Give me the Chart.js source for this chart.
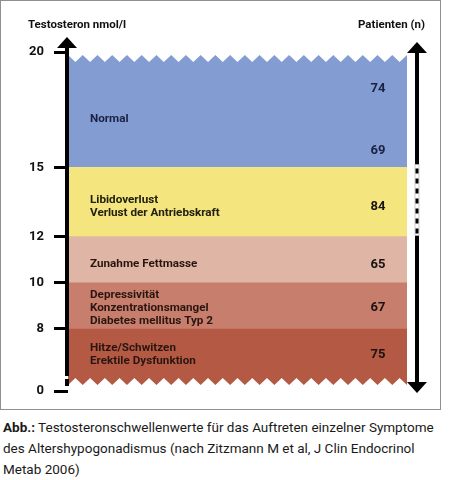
<!DOCTYPE html>
<html lang="de">
<head>
  <meta charset="UTF-8">
  <title>Testosteronschwellenwerte</title>
  <style>
    body {
      margin: 0;
      background: #fff;
      font-family: Roboto, sans-serif;
    }
    .chart-box {
      position: relative;
      width: 442px;
      height: 411px;
    }
    .chart-box canvas {
      position: absolute;
      left: 0;
      top: 0;
    }
    /* grauer Rahmen um die Grafik */
    .chart-box .frame {
      position: absolute;
      left: 0;
      top: 0;
      width: 439px;
      height: 408px;
      border: 1.5px solid #8f8f8f;
      pointer-events: none;
    }
    .caption {
      margin: 6px 0 0 3px;
      font-size: 13.5px;
      line-height: 21px;
      color: #1a1a1a;
      white-space: nowrap;
    }
    .caption b { font-weight: 700; }
  </style>
</head>
<body>

  <div class="chart-box">
    <canvas id="symptomChart" width="442" height="411"></canvas>
    <div class="frame"></div>
  </div>
  <div class="caption">
    <b>Abb.:</b> Testosteronschwellenwerte für das Auftreten einzelner Symptome<br>
    des Altershypogonadismus (nach Zitzmann M et al, J Clin Endocrinol<br>
    Metab 2006)
  </div>

  <script src="https://cdn.jsdelivr.net/npm/chart.js"></script>
  <script>
    // Schwellenbereiche (nmol/l), von unten nach oben
    const bandLow  = [0, 8, 10, 12, 15];
    const bandHigh = [8, 10, 12, 15, 20];
    const symptoms = [
      ['Hitze/Schwitzen', 'Erektile Dysfunktion'],
      ['Depressivität', 'Konzentrationsmangel', 'Diabetes mellitus Typ 2'],
      ['Zunahme Fettmasse'],
      ['Libidoverlust', 'Verlust der Antriebskraft'],
      ['Normal']
    ];
    // Höhe (nmol/l) an der die Beschriftung steht
    const symptomLevels = [4.7, 8.9, 10.8, 13.3, 17.1];

    // Patientenzahlen und ihre Höhe (nmol/l)
    const patients      = [75, 67, 65, 84, 69, 74];
    const patientLevels = [4.7, 8.9, 10.8, 13.3, 15.7, 18.4];

    const tickValues = [0, 8, 10, 12, 15, 20];

    const bandColors = ['#b45944', '#c87e6c', '#dfb6a6', '#f4e57e', '#839dd3'];
    const textColors = ['#2a1610', '#2a1610', '#2a1610', '#22200e', '#1b2142'];

    // Achse ist unter 8 nmol/l gestaucht
    const squeeze = 0.336;
    const axisPos = v => v >= 8 ? v : 8 - (8 - v) * squeeze;

    const datasets = bandLow.map((lo, i) => ({
      label: symptoms[i].join(', '),
      data: [[axisPos(lo), axisPos(bandHigh[i])]],
      backgroundColor: bandColors[i],
      borderWidth: 0,
      barPercentage: 1,
      categoryPercentage: 1,
      grouped: false
    }));

    const decor = {
      id: 'decor',
      afterDatasetsDraw(chart) {
        const { ctx, chartArea: a, scales: { y } } = chart;
        const n = 23;
        const tooth = (a.right - a.left) / n;
        ctx.save();

        // Zacken oben
        ctx.fillStyle = '#fff';
        ctx.beginPath();
        ctx.moveTo(a.left, a.top - 2);
        for (let i = 0; i <= n; i++) {
          const x = a.left + i * tooth;
          ctx.lineTo(x, a.top + 3);
          if (i < n) ctx.lineTo(x + tooth / 2, a.top + 10);
        }
        ctx.lineTo(a.right + 1, a.top - 2);
        ctx.closePath();
        ctx.fill();

        // Zacken unten
        ctx.beginPath();
        ctx.moveTo(a.left, a.bottom + 2);
        for (let i = 0; i <= n; i++) {
          const x = a.left + i * tooth;
          ctx.lineTo(x, a.bottom - 6);
          if (i < n) ctx.lineTo(x + tooth / 2, a.bottom - 13);
        }
        ctx.lineTo(a.right + 1, a.bottom + 2);
        ctx.closePath();
        ctx.fill();

        // linke Achse mit Pfeil
        const lx = a.left - 1;
        ctx.fillStyle = '#000';
        ctx.fillRect(lx - 2, a.top - 6, 4, a.bottom - a.top - 9);
        ctx.fillRect(lx - 2, a.bottom - 12, 4, 7);
        ctx.beginPath();
        ctx.moveTo(lx, a.top - 15);
        ctx.lineTo(lx - 10, a.top - 4);
        ctx.lineTo(lx + 10, a.top - 4);
        ctx.closePath();
        ctx.fill();

        // rechter Doppelpfeil
        const rx = a.right + 10;
        ctx.fillRect(rx - 2, a.top - 2, 4, a.bottom - a.top - 4);
        ctx.beginPath();
        ctx.moveTo(rx, a.top - 10);
        ctx.lineTo(rx - 10, a.top + 1);
        ctx.lineTo(rx + 10, a.top + 1);
        ctx.closePath();
        ctx.fill();
        ctx.beginPath();
        ctx.moveTo(rx, a.bottom + 2);
        ctx.lineTo(rx - 10, a.bottom - 9);
        ctx.lineTo(rx + 10, a.bottom - 9);
        ctx.closePath();
        ctx.fill();
        // unterbrochener Abschnitt
        const d0 = y.getPixelForValue(15) - 3;
        const d1 = y.getPixelForValue(12) - 1;
        ctx.fillStyle = '#fff';
        ctx.fillRect(rx - 2, d0, 4, d1 - d0);
        ctx.strokeStyle = '#aaa';
        ctx.lineWidth = 0.6;
        ctx.strokeRect(rx - 2, d0, 4, d1 - d0);
        ctx.strokeStyle = '#000';
        ctx.lineWidth = 3;
        ctx.setLineDash([5, 5]);
        ctx.beginPath();
        ctx.moveTo(rx, d0 + 4);
        ctx.lineTo(rx, d1);
        ctx.stroke();
        ctx.setLineDash([]);

        // Titel der Achsen
        ctx.fillStyle = '#111';
        ctx.font = 'bold 11.5px Roboto';
        ctx.textBaseline = 'middle';
        ctx.textAlign = 'left';
        ctx.fillText('Testosteron nmol/l', 28, 25);
        ctx.textAlign = 'right';
        ctx.fillText('Patienten (n)', 425, 25);

        // Symptome
        ctx.textAlign = 'left';
        ctx.font = 'bold 11.7px Roboto';
        symptoms.forEach((lines, i) => {
          const cy = y.getPixelForValue(axisPos(symptomLevels[i]));
          const lh = 13;
          ctx.fillStyle = textColors[i];
          lines.forEach((t, j) => {
            ctx.fillText(t, a.left + 22, cy + (j - (lines.length - 1) / 2) * lh);
          });
        });

        // Patientenzahlen
        ctx.textAlign = 'center';
        ctx.font = 'bold 13px Roboto';
        patients.forEach((p, i) => {
          const cy = y.getPixelForValue(axisPos(patientLevels[i]));
          ctx.fillStyle = i >= 4 ? '#1b2142' : '#1a1410';
          ctx.fillText(String(p), a.right - 29, cy);
        });
        ctx.restore();
      }
    };

    new Chart(document.getElementById('symptomChart'), {
      type: 'bar',
      data: { labels: [''], datasets },
      options: {
        responsive: false,
        animation: false,
        layout: { padding: { top: 52, right: 35, bottom: 20, left: 0 } },
        plugins: {
          legend: { display: false },
          tooltip: { enabled: false }
        },
        scales: {
          x: { display: false },
          y: {
            min: axisPos(0),
            max: 20,
            afterFit: scale => { scale.width = 68; },
            afterBuildTicks: scale => {
              scale.ticks = tickValues.map(v => ({ value: axisPos(v) }));
            },
            border: { display: false },
            grid: {
              drawOnChartArea: false,
              drawTicks: true,
              tickLength: 14,
              tickWidth: 3,
              tickColor: '#000'
            },
            ticks: {
              autoSkip: false,
              padding: 10,
              color: '#111',
              font: { family: 'Roboto', size: 13, weight: 'bold' },
              callback: (val, i) => String(tickValues[i])
            }
          }
        }
      },
      plugins: [decor]
    });
  </script>

</body>
</html>
